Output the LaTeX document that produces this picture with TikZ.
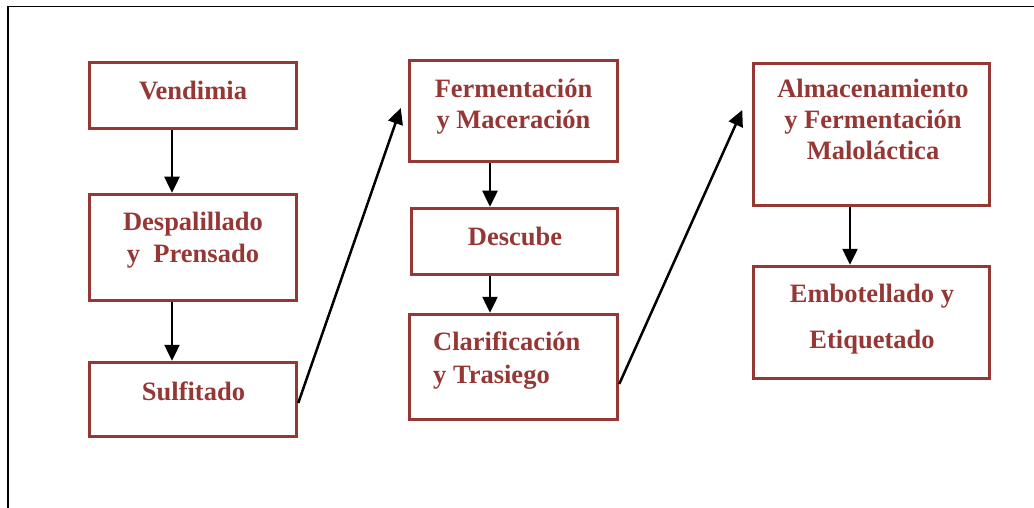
\documentclass[tikz,border=0pt]{standalone}
\usepackage{fontspec}
\setmainfont{Liberation Serif}
\usetikzlibrary{arrows.meta}
\definecolor{wine}{HTML}{953735}
\begin{document}
\begin{tikzpicture}[x=1pt,y=-1pt,
  box/.style={draw=wine, line width=3.5pt, inner sep=0pt},
  lbl/.style={text=wine, font=\bfseries\fontsize{26.5}{32}\selectfont, align=center, anchor=base, inner sep=0pt},
  arr/.style={line width=2.5pt, -{Triangle[length=16pt,width=15pt]}}]
\useasboundingbox (0,0) rectangle (1034,508);
\draw[line width=1.2pt] (8,508) -- (8,6.5) -- (1034,6.5);
% boxes
\node[box, minimum width=207pt, minimum height=66pt]  (b1) at (193,95.5) {};
\node[box, minimum width=207pt, minimum height=106pt] (b2) at (193,247.5) {};
\node[box, minimum width=207pt, minimum height=74pt]  (b3) at (193,399.5) {};
\node[box, minimum width=208pt, minimum height=101pt] (b4) at (513.5,111) {};
\node[box, minimum width=206pt, minimum height=66pt]  (b5) at (514.5,241.5) {};
\node[box, minimum width=208pt, minimum height=105pt] (b6) at (513.5,367) {};
\node[box, minimum width=236pt, minimum height=142pt] (b7) at (871.5,134.5) {};
\node[box, minimum width=236pt, minimum height=112pt] (b8) at (871.5,322.5) {};
% texts (base anchor = baseline of last line)
\node[lbl] (t1) at (193,100) {Vendimia};
\node[lbl] (t2) at (193,262) {Despalillado\\y\ \ Prensado};
\node[lbl] (t3) at (193.5,400) {Sulfitado};
\node[lbl] (t4) at (513.5,129) {Fermentación\\y Maceración};
\node[lbl] (t5) at (515,245) {Descube};
\node[lbl, font=\bfseries\fontsize{26.5}{33}\selectfont, align=left, anchor=base west] (t6) at (433,383) {Clarificación\\y Trasiego};
\node[lbl, font=\bfseries\fontsize{26.5}{31}\selectfont] (t7) at (873,160) {Almacenamiento\\y Fermentación\\Maloláctica};
\node[lbl, font=\bfseries\fontsize{26.5}{46}\selectfont] (t8) at (872,348) {Embotellado y\\Etiquetado};
% arrows
\draw[arr] ([xshift=-21pt]b1.south) -- ([xshift=-21pt]b1.south |- b2.north);
\draw[arr] ([xshift=-21pt]b2.south) -- ([xshift=-21pt]b2.south |- b3.north);
\draw[arr] ([yshift=-3.5pt]b3.east) -- ([xshift=-7pt,yshift=3pt]b4.west);
\draw[arr] ([xshift=-23.5pt]b4.south) -- ([xshift=-23.5pt]b4.south |- b5.north);
\draw[arr] ([xshift=-24.5pt]b5.south) -- ([xshift=-24.5pt]b5.south |- b6.north);
\draw[arr] ([yshift=-17pt]b6.east) -- ([xshift=-9.5pt,yshift=24.5pt]b7.west);
\draw[arr] ([xshift=-21.5pt]b7.south) -- ([xshift=-21.5pt]b7.south |- b8.north);
\end{tikzpicture}
\end{document}
